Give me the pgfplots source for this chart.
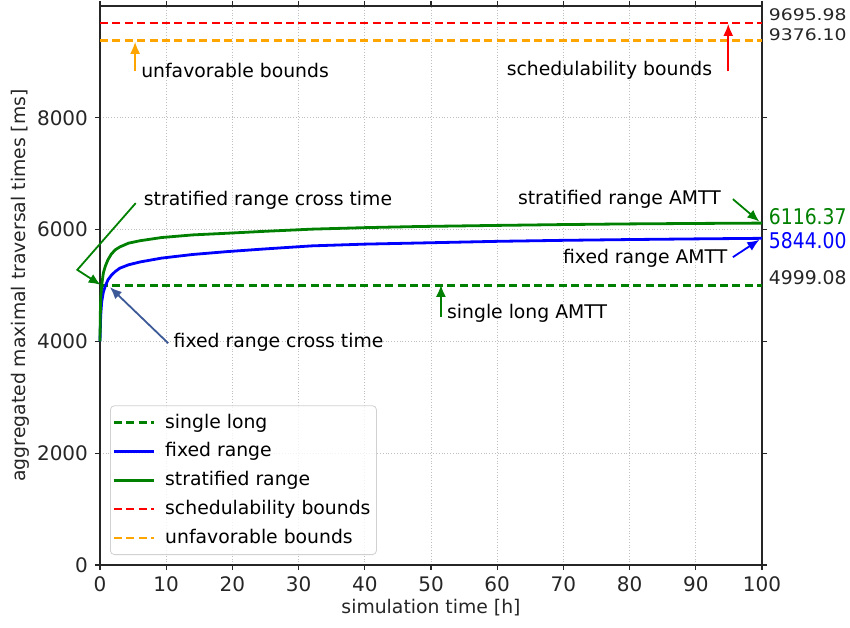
\documentclass[border=0pt]{standalone}
\usepackage{fontspec}
\setmainfont{DejaVu Sans}
\usepackage{graphicx}
\usepackage{pgfplots}
\pgfplotsset{compat=1.18}
\usetikzlibrary{arrows.meta}

\definecolor{mgreen}{HTML}{008000}
\definecolor{mblue}{HTML}{0000FF}
\definecolor{mred}{HTML}{FF0000}
\definecolor{morange}{HTML}{FFA500}
\definecolor{arrowblue}{HTML}{3D5A98}
\definecolor{inkgray}{HTML}{262626}

\newcommand{\fs}{\fontsize{9.4}{11}\selectfont}

\begin{document}
\begin{tikzpicture}
  \begin{axis}[
    scale only axis,
    width=331pt, height=279.5pt,
    xmin=0, xmax=100, ymin=0, ymax=10000,
    xtick={0,10,...,100},
    ytick={0,2000,4000,6000,8000},
    scaled y ticks=false,
    grid=major,
    grid style={densely dotted, black!25, line width=0.5pt},
    tick align=outside,
    major tick length=2.5pt,
    tick style={inkgray, line width=0.6pt},
    axis line style={inkgray, line width=0.6pt},
    ticklabel style={font=\fontsize{10}{12}\selectfont, text=inkgray},
    /pgf/number format/assume math mode=true,
    /pgf/number format/1000 sep={},
    xlabel={simulation time [h]},
    ylabel={aggregated maximal traversal times [ms]},
    label style={font=\fs, text=inkgray},
    xlabel style={at={(axis description cs:0.5,-0.0769)}, anchor=center},
    ylabel style={at={(axis description cs:-0.1208,0.5)}, anchor=center},
    clip=false,
    legend cell align=left,
    legend image code/.code={\draw[#1] (0pt,0pt) -- (20pt,0pt);},
    legend style={
      at={(axis description cs:0.0151,0.0179)}, anchor=south west,
      draw=black!18, rounded corners=2pt, fill=white, fill opacity=0.8,
      text opacity=1, font=\fs, inner xsep=1pt, row sep=1.8pt,
      /tikz/every odd column/.append style={column sep=3pt},
    },
  ]
    % single long
    \addplot[mgreen, line width=1.4pt, dash pattern=on 4pt off 2.2pt] coordinates {(0,4999.08) (100,4999.08)};
    % fixed range
    \addplot[mblue, line width=1.4pt] coordinates {
      (0,4000) (0.1,4450) (0.25,4700) (0.5,4880) (0.8,4990) (1.2,5100)
      (1.7,5180) (2.3,5250) (3,5310) (4.3,5370) (6,5420) (9.3,5490)
      (14,5555) (19.4,5608) (25,5655) (32,5709) (40,5740) (48,5760)
      (60,5790) (70,5808) (80,5822) (90,5834) (100,5844)
    };
    % stratified range
    \addplot[mgreen, line width=1.4pt] coordinates {
      (0,4000) (0.05,4500) (0.12,4800) (0.25,5000) (0.5,5220) (0.8,5345)
      (1.2,5460) (1.7,5560) (2.3,5638) (3,5690) (4.3,5757) (6,5800)
      (9.3,5858) (14,5905) (19.4,5936) (25,5970) (32,6008) (40,6035)
      (48,6055) (60,6075) (70,6090) (80,6102) (90,6110) (100,6116.37)
    };
    % bounds
    \addplot[mred, line width=1.4pt, dash pattern=on 4pt off 2.2pt] coordinates {(0,9695.98) (100,9695.98)};
    \addplot[morange, line width=1.4pt, dash pattern=on 4pt off 2.2pt] coordinates {(0,9376.10) (100,9376.10)};
    \legend{single long, fixed range, stratified range, schedulability bounds, unfavorable bounds}

    % annotations
    \begin{scope}[line width=0.9pt, font=\fs, text=black]
      \draw[mgreen, -{Latex[length=6pt,width=5pt]}]
        (axis cs:5.4,6474) -- (axis cs:-3.43,5280) -- (axis cs:0.1,5010);
      \node[anchor=west, inner sep=0pt] at (axis cs:6.5,6532) {stratified range cross time};

      \draw[arrowblue, -{Latex[length=6pt,width=5pt]}]
        (axis cs:10.3,3968) -- (axis cs:1.5,4970);
      \node[anchor=west, inner sep=0pt] at (axis cs:11,3979) {fixed range cross time};

      \draw[mgreen, -{Latex[length=6pt,width=5pt]}]
        (axis cs:51.5,4444) -- (axis cs:51.5,5010);
      \node[anchor=west, inner sep=0pt] at (axis cs:52.3,4510) {single long AMTT};

      \draw[mgreen, -{Latex[length=6pt,width=5pt]}]
        (axis cs:95.6,6545) -- (axis cs:99.6,6144);
      \node[anchor=east, inner sep=0pt] at (axis cs:93.9,6545) {stratified range AMTT};

      \draw[mblue, -{Latex[length=6pt,width=5pt]}]
        (axis cs:95.6,5507) -- (axis cs:99.6,5817);
      \node[anchor=east, inner sep=0pt] at (axis cs:94.9,5489) {fixed range AMTT};

      \draw[morange, -{Latex[length=6pt,width=5pt]}]
        (axis cs:5.3,8829) -- (axis cs:5.3,9360);
      \node[anchor=west, inner sep=0pt] at (axis cs:6.1,8847) {unfavorable bounds};

      \draw[mred, -{Latex[length=6pt,width=5pt]}]
        (axis cs:94.9,8829) -- (axis cs:94.9,9680);
      \node[anchor=east, inner sep=0pt] at (axis cs:92.6,8847) {schedulability bounds};

      % values on the right
      \node[anchor=west, inner sep=0pt, xshift=3pt, text=inkgray] at (axis cs:100,9843) {\scalebox{1}[0.85]{9695.98}};
      \node[anchor=west, inner sep=0pt, xshift=3pt, text=inkgray] at (axis cs:100,9486) {\scalebox{1}[0.85]{9376.10}};
      \node[anchor=west, inner sep=0pt, xshift=3pt, text=mgreen] at (axis cs:100,6233) {\scalebox{1}[1.15]{6116.37}};
      \node[anchor=west, inner sep=0pt, xshift=3pt, text=mblue] at (axis cs:100,5798) {\scalebox{1}[1.15]{5844.00}};
      \node[anchor=west, inner sep=0pt, xshift=3pt, text=inkgray] at (axis cs:100,5136) {4999.08};
    \end{scope}
  \end{axis}
  \pgfresetboundingbox
  \path[use as bounding box] (-50pt,-31pt) rectangle (375pt,282.5pt);
\end{tikzpicture}
\end{document}
